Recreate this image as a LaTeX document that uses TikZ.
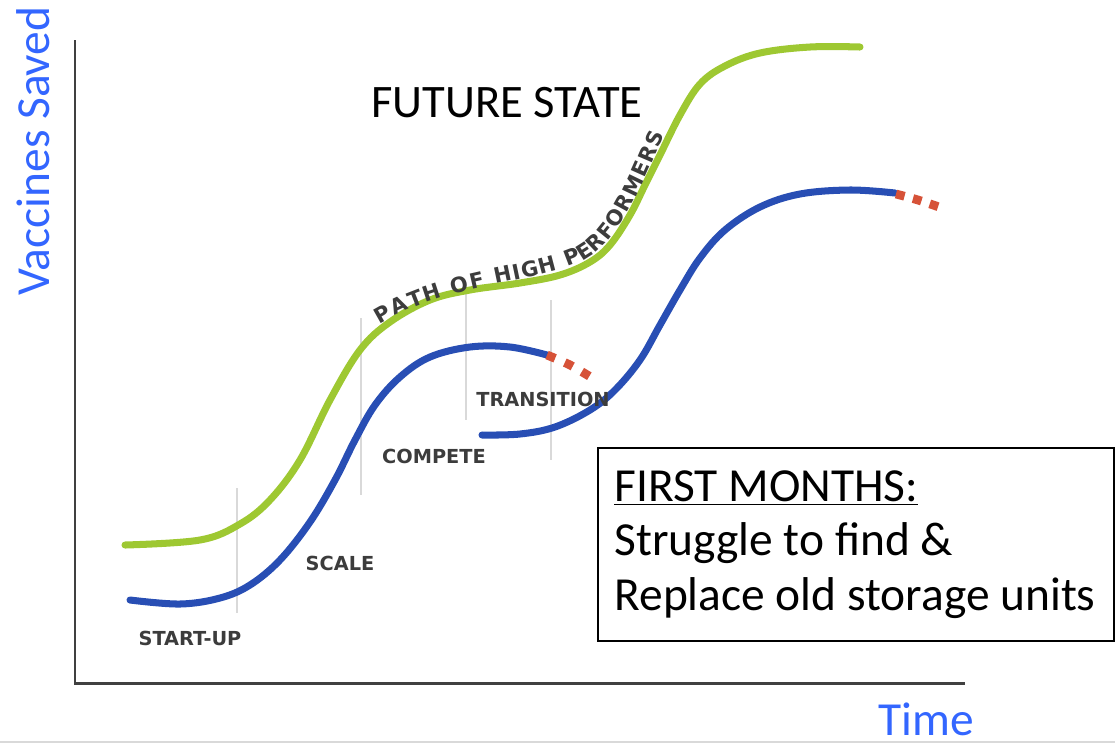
\documentclass[tikz,border=0pt]{standalone}
\usepackage{fontspec}
\setmainfont{Carlito}
\newfontfamily\stagefont{DejaVu Sans}
\usetikzlibrary{decorations.text}

\definecolor{axisblue}{RGB}{51,102,255}
\definecolor{leadgreen}{RGB}{158,200,50}
\definecolor{pathblue}{RGB}{40,78,180}
\definecolor{dotred}{RGB}{214,82,56}
\definecolor{stagegray}{RGB}{60,60,60}

\begin{document}
\begin{tikzpicture}[x=0.02cm, y=-0.02cm,
		curve/.style={line width=4pt, line cap=round, smooth, tension=0.6},
		dots/.style={dotred, line width=5pt, smooth, dash pattern=on 5pt off 6pt},
		stage/.style={font=\stagefont\bfseries\fontsize{11}{13}\selectfont, text=stagegray},
		divider/.style={gray!30, line width=0.8pt},
		axislabel/.style={font=\fontsize{27}{31}\selectfont, text=axisblue}]
		\useasboundingbox (0,0) rectangle (1115,745);

		\coordinate (top) at (75,40);
		\coordinate (origin) at (75,683);
		\coordinate (right) at (965,683);
		\draw[black!75, line width=1.7pt] (top) -- (origin) -- (right);
		\draw[gray!30, line width=1.5pt] (0,742) -- (1115,742);

		\foreach \x/\ya/\yb in {237/488/613, 361/318/495, 466/290/420, 551/300/460} {
				\draw[divider] (\x,\ya) -- (\x,\yb);
			}

		\draw[leadgreen, curve] plot coordinates {(125,545) (200,540) (240,524) (270,500) (300,460) (330,400) (360,350) (390,322) (430,300) (470,290) (520,283) (560,275) (590,262) (610,245) (630,215) (645,185) (660,155) (680,115) (700,84) (725,66) (760,53) (810,47) (860,47)};
		\coordinate (pathstart) at (382,328);
		\coordinate (pathmid) at (590,262);
		\coordinate (pathend) at (668,136);
		\path[decorate, decoration={text along path, text align={fit to path}, raise=2.5pt,
				text={|\stagefont\bfseries\fontsize{12}{14}\selectfont\color{stagegray}|PATH OF HIGH PERFORMERS}}]
			(pathstart) .. controls (450,286) and (540,288) .. (pathmid) .. controls (625,240) and (645,190) .. (pathend);

		\draw[pathblue, curve] plot coordinates {(130,600) (180,604) (220,598) (250,585) (280,560) (310,522) (335,480) (355,440) (375,405) (400,377) (430,357) (470,347) (510,347) (547,355)};
		\draw[dots] plot coordinates {(547,355) (570,365) (594,379)};
		\draw[pathblue, curve] plot coordinates {(482,435) (520,434) (555,427) (590,410) (615,390) (640,360) (660,325) (680,290) (700,258) (725,230) (760,207) (800,194) (850,190) (895,193)};
		\draw[dots, dash pattern=on 5pt off 5pt] plot coordinates {(896,194) (918,200) (942,208)};

		\node[stage] (startup) at (190,638) {START-UP};
		\node[stage] (scale) at (340,563) {SCALE};
		\node[stage] (compete) at (434,456) {COMPETE};
		\node[stage] (transition) at (543,399) {TRANSITION};

		\node[font=\fontsize{26.5}{30}\selectfont] (future) at (507,103) {FUTURE STATE};
		\node[axislabel, rotate=90] (vaccines) at (33,151) {Vaccines Saved};
		\node[axislabel, fill=white, inner sep=0pt] (time) at (926,719) {Time};

		\node[draw, line width=1.1pt, anchor=north west, minimum width=10.32cm, minimum height=3.86cm,
			text width=9.66cm, inner xsep=0.33cm, align=left, font=\fontsize{27}{31}\selectfont]
			(months) at (597,447) {\spaceskip=0pt\xspaceskip=0pt\underline{FIRST MONTHS:}\\Struggle to find \&\\Replace old storage units};
	\end{tikzpicture}
\end{document}
